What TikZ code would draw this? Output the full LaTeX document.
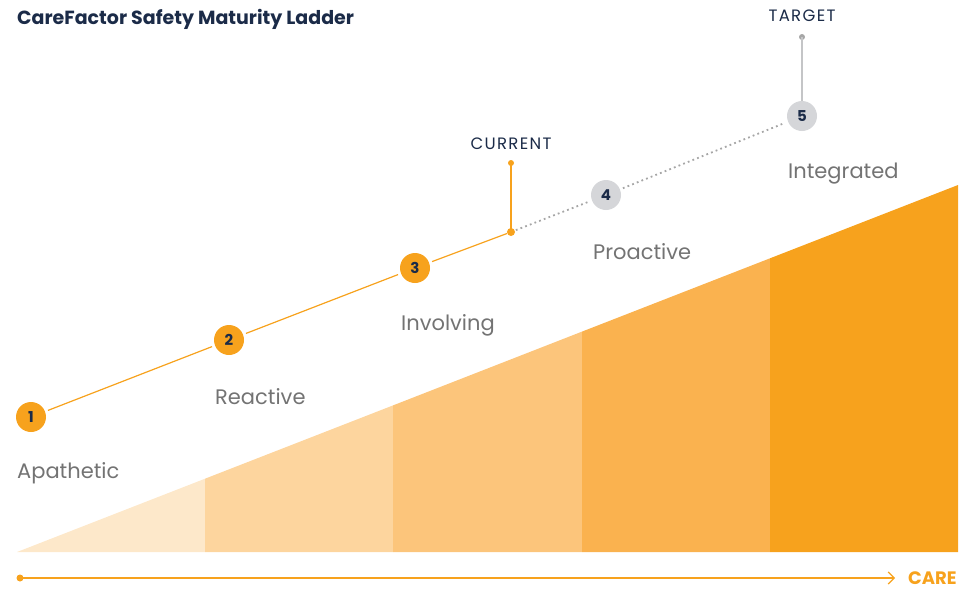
\documentclass[tikz,border=0pt]{standalone}
\usepackage{fontspec}
\setmainfont{Poppins}
\usetikzlibrary{arrows.meta}
\definecolor{navy}{HTML}{1B2B48}
\definecolor{orng}{HTML}{F7A21D}
\definecolor{bandA}{HTML}{FDE8CA}
\definecolor{bandB}{HTML}{FDD59E}
\definecolor{bandC}{HTML}{FCC57B}
\definecolor{bandD}{HTML}{FAB24F}
\definecolor{bandE}{HTML}{F7A21D}
\definecolor{stepgray}{HTML}{D5D6D9}
\definecolor{labgray}{HTML}{737373}
\definecolor{dotgray}{HTML}{A6A6A6}
\tikzset{
  orangestep/.style={circle,fill=orng,minimum size=30pt,inner sep=0pt,text=navy,font=\fontsize{15}{15}\selectfont\bfseries},
  graystep/.style={circle,fill=stepgray,minimum size=30pt,inner sep=0pt,text=navy,font=\fontsize{15}{15}\selectfont\bfseries},
  levellabel/.style={anchor=west,text=labgray,font=\fontsize{21}{21}\selectfont,inner sep=0pt},
  marklabel/.style={text=navy,font=\fontsize{16.5}{16.5}\selectfont\addfontfeature{LetterSpace=8},inner sep=0pt},
  smalldot/.style={circle,inner sep=0pt,minimum size=6pt},
  link/.style={orng,line width=1.2pt,shorten <=3pt,shorten >=3pt},
  dotlink/.style={dotgray,line width=1.8pt,dash pattern=on 1.8pt off 3.2pt,shorten <=3pt,shorten >=3pt},
}
\begin{document}
\begin{tikzpicture}[x=1pt,y=-1pt]
\useasboundingbox (0,0) rectangle (973,590);
% bands
\fill[bandA] (17,552) -- (205,478.7) -- (205,552) -- cycle;
\fill[bandB] (205,552) -- (205,478.7) -- (393,405.4) -- (393,552) -- cycle;
\fill[bandC] (393,552) -- (393,405.4) -- (582,331.6) -- (582,552) -- cycle;
\fill[bandD] (582,552) -- (582,331.6) -- (770,258.3) -- (770,552) -- cycle;
\fill[bandE] (770,552) -- (770,258.3) -- (958,185) -- (958,552) -- cycle;
% title
\node[anchor=west,text=navy,font=\fontsize{19}{19}\selectfont\bfseries,inner sep=0pt] (title) at (17,19.5) {CareFactor Safety Maturity Ladder};
% steps
\node[orangestep] (s1) at (31,417) {1};
\node[orangestep] (s2) at (229,340) {2};
\node[orangestep] (s3) at (415,268) {3};
\node[smalldot,fill=orng,minimum size=8pt] (cur) at (511,232) {};
\node[graystep] (s4) at (606,195) {4};
\node[graystep] (s5) at (802,116) {5};
\draw[link] (s1) -- (s2);
\draw[link] (s2) -- (s3);
\draw[link,shorten >=0pt] (s3) -- (cur);
\draw[dotlink,shorten <=1pt] (cur) -- (s4);
\draw[dotlink] (s4) -- (s5);
% current marker
\node[smalldot,fill=orng] (curtop) at (511,163) {};
\draw[orng,line width=1.2pt] (cur.center) -- (curtop.center);
\node[marklabel] (curlab) at (511,144) {CURRENT};
% target marker
\node[smalldot,fill=dotgray] (tgttop) at (802,37) {};
\draw[stepgray!80!gray,line width=1.6pt] (s5) -- (tgttop.center);
\node[marklabel] (tgtlab) at (802,16) {TARGET};
% level labels
\node[levellabel] (l1) at (17,473.5) {Apathetic};
\node[levellabel] (l2) at (215,397) {Reactive};
\node[levellabel] (l3) at (401,325.5) {Involving};
\node[levellabel] (l4) at (593,252) {Proactive};
\node[levellabel] (l5) at (788,173.5) {Integrated};
% care axis
\node[smalldot,fill=orng,minimum size=7pt] (axstart) at (20,578) {};
\coordinate (axend) at (895,578);
\draw[orng,line width=1.2pt,-{Straight Barb[length=6pt,width=12pt,line width=1.2pt]}] (axstart.center) -- (axend);
\node[anchor=west,text=orng,font=\fontsize{18}{18}\selectfont\bfseries,inner sep=0pt] (care) at (908,578.5) {CARE};
\end{tikzpicture}
\end{document}
